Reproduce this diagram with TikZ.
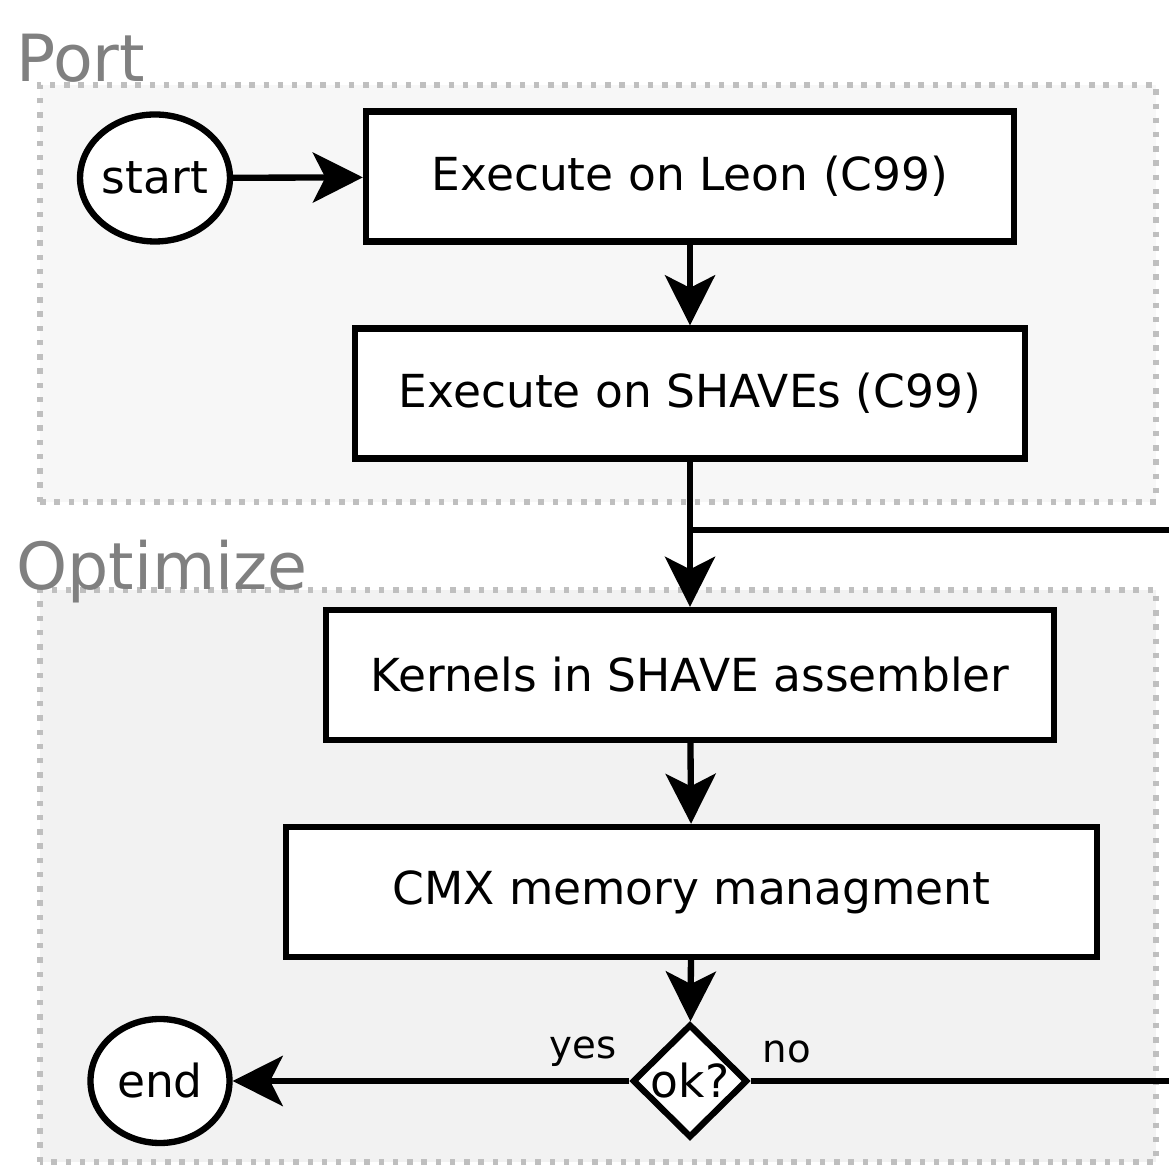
\documentclass[tikz,border=0pt]{standalone}
\usepackage{fontspec}
\setmainfont{DejaVu Sans}
\usetikzlibrary{arrows.meta,shapes.geometric}
\definecolor{groupline}{HTML}{BFBFBF}
\definecolor{portfill}{HTML}{F7F7F7}
\definecolor{optfill}{HTML}{F2F2F2}
\definecolor{grouptext}{HTML}{808080}
\begin{document}
\begin{tikzpicture}[
    every node/.style={font=\fontsize{25.9}{31}\selectfont},
    block/.style={draw, line width=3.6pt, fill=white, minimum height=2.6cm},
    terminal/.style={draw, ellipse, line width=3.6pt, fill=white, inner sep=0pt},
    decision/.style={draw, diamond, line width=3.6pt, fill=white, inner sep=0pt,
                     minimum width=2.3cm, minimum height=2.22cm},
    group/.style={draw=groupline, line width=3.1pt, dash pattern=on 3.1pt off 5pt},
    flow/.style={line width=3.6pt, -{Stealth[length=1cm,width=1cm,inset=0.25cm]}},
    grouplabel/.style={text=grouptext, font=\fontsize{37}{44}\selectfont, anchor=base west},
    branch/.style={font=\fontsize{22}{26}\selectfont}
]

        \useasboundingbox (0,0) rectangle (23.38,23.3);

        % Groups
        \draw[group, fill=portfill] (0.8,13.26) rectangle (23.12,21.6);
        \draw[group, fill=optfill]  (0.8, 0.06) rectangle (23.12,11.5);
        \node[grouplabel] (port)     at (0.2,21.66) {Port};
        \node[grouplabel] (optimize) at (0.2,11.5)  {Optimize};

        % Steps
        \node[terminal, minimum width=2.76cm, minimum height=2.54cm] (start) at ( 3.1,19.74) {start};
        \node[block, minimum width=12.96cm] (leon)    at (13.8,19.77) {Execute on Leon (C99)};
        \node[block, minimum width=13.4cm]  (shaves)  at (13.8,15.43) {Execute on SHAVEs (C99)};
        \node[block, minimum width=14.56cm] (kernels) at (13.8, 9.8)  {Kernels in SHAVE assembler};
        \node[block, minimum width=16.22cm] (cmx)     at (13.83,5.46) {CMX memory managment};
        \node[decision] (ok)  at (13.8,1.68) {ok?};
        \node[terminal, minimum width=2.78cm, minimum height=2.48cm] (end) at ( 3.2,1.68) {end};

        % Loop back
        \coordinate (join)     at (13.8,12.7);
        \coordinate (loopback) at (24,  12.7);

        % Connectors
        \draw[flow] (start)          -- (leon);
        \draw[flow] (leon)           -- (shaves);
        \draw[flow] (shaves)         -- (kernels);
        \draw[flow] (kernels)        -- (cmx);
        \draw[flow] (cmx)            -- (ok);
        \draw[flow] (ok.west)        -- (end);
        \draw[line width=3.6pt] (ok.east) -- (ok.east -| loopback) -- (loopback) -- (join);

        % Labels
        \node[branch] (yes) at (11.66,2.26) {yes};
        \node[branch] (no)  at (15.74,2.26) {no};

    \end{tikzpicture}
\end{document}
